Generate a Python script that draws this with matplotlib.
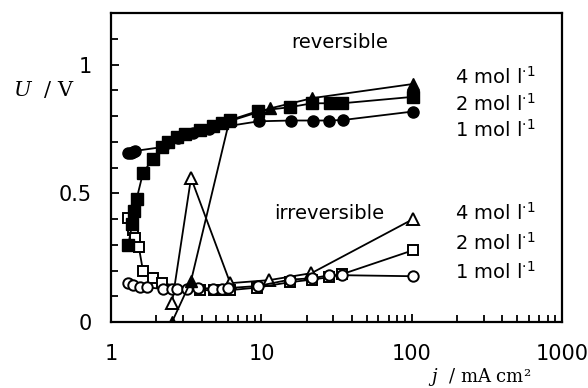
import matplotlib
matplotlib.use("Agg")
import matplotlib.pyplot as plt
from matplotlib.ticker import FixedLocator, NullFormatter, MultipleLocator

# reversible (filled markers)
rev4_j = [2.54, 3.4, 6.1, 11.4, 21.8, 102]
rev4_U = [0.0, 0.16, 0.78, 0.83, 0.87, 0.925]

rev2_j = [1.30, 1.38, 1.42, 1.48, 1.63, 1.90, 2.18, 2.4, 2.75, 3.1, 3.9, 4.76, 5.5, 6.2, 9.5, 15.5, 21.8, 28.5, 34.5, 102]
rev2_U = [0.30, 0.38, 0.43, 0.48, 0.58, 0.635, 0.68, 0.70, 0.72, 0.73, 0.745, 0.76, 0.775, 0.785, 0.82, 0.835, 0.85, 0.85, 0.85, 0.875]

rev1_j = [1.30, 1.35, 1.40, 1.45, 2.2, 2.8, 3.5, 4.5, 9.6, 15.7, 22.0, 28.1, 34.9, 102]
rev1_U = [0.655, 0.658, 0.66, 0.665, 0.68, 0.715, 0.735, 0.75, 0.78, 0.783, 0.783, 0.783, 0.785, 0.818]

# irreversible (open markers)
irr4_j = [2.54, 3.4, 6.2, 11.3, 21.5, 102]
irr4_U = [0.074, 0.56, 0.151, 0.163, 0.19, 0.40]

irr2_j = [1.30, 1.38, 1.40, 1.44, 1.53, 1.63, 1.90, 2.18, 3.9, 4.8, 5.5, 6.2, 9.4, 15.5, 21.8, 28, 34.4, 102]
irr2_U = [0.403, 0.376, 0.357, 0.326, 0.29, 0.198, 0.17, 0.151, 0.124, 0.124, 0.124, 0.124, 0.134, 0.155, 0.165, 0.174, 0.186, 0.279]

irr1_j = [1.30, 1.40, 1.56, 1.74, 2.22, 2.54, 2.75, 3.2, 3.8, 4.77, 5.5, 6.0, 9.5, 15.5, 21.8, 28.2, 34.4, 102]
irr1_U = [0.151, 0.145, 0.136, 0.135, 0.128, 0.128, 0.13, 0.13, 0.132, 0.13, 0.13, 0.132, 0.14, 0.165, 0.17, 0.182, 0.182, 0.178]

conc_labels = ["4 mol l$^{\\cdot 1}$", "2 mol l$^{\\cdot 1}$", "1 mol l$^{\\cdot 1}$"]

fig = plt.figure(figsize=(5.88, 3.88), dpi=100)
ax = fig.add_axes([0.189, 0.170, 0.767, 0.796])

lw = 1.3
ms = 7.5
# open (irreversible) curves
ax.plot(irr4_j, irr4_U, '-^', color='black', lw=lw, ms=ms+1, mfc='white', mec='black', mew=1.4)
ax.plot(irr2_j, irr2_U, '-s', color='black', lw=lw, ms=ms, mfc='white', mec='black', mew=1.4)
ax.plot(irr1_j, irr1_U, '-o', color='black', lw=lw, ms=ms, mfc='white', mec='black', mew=1.4)
# filled (reversible) curves
ax.plot(rev4_j, rev4_U, '-^', color='black', lw=lw, ms=ms+1.5)
ax.plot(rev2_j, rev2_U, '-s', color='black', lw=lw, ms=ms+0.5)
ax.plot(rev1_j, rev1_U, '-o', color='black', lw=lw, ms=ms+0.5)

ax.set_xscale('log')
ax.set_xlim(1, 1000)
ax.set_ylim(0, 1.2)
ax.set_xticks([1, 10, 100, 1000])
ax.set_xticklabels(['1', '10', '100', '1000'])
ax.xaxis.set_minor_locator(FixedLocator([m * d for d in [1, 10, 100] for m in range(2, 10)]))
ax.xaxis.set_minor_formatter(NullFormatter())
ax.set_yticks([0, 0.5, 1])
ax.set_yticklabels(['0', '0.5', '1'])
ax.yaxis.set_minor_locator(MultipleLocator(0.1))

for s in ax.spines.values():
    s.set_linewidth(1.6)
ax.tick_params(which='both', direction='in', width=1.3, labelsize=15)
ax.tick_params(which='major', length=6)
ax.tick_params(which='minor', length=5)
ax.tick_params(axis='x', pad=16)
ax.tick_params(axis='y', pad=14)

# annotation texts
fig.text(340 / 588, 1 - 43 / 388, "reversible", ha='center', va='center', fontsize=14)
fig.text(329 / 588, 1 - 213 / 388, "irreversible", ha='center', va='center', fontsize=14)
for i, lab in enumerate(conc_labels):
    fig.text(455 / 588, 1 - (77 + 26.5 * i) / 388, lab, ha='left', va='center', fontsize=14)
    fig.text(455 / 588, 1 - (213 + 29.5 * i) / 388, lab, ha='left', va='center', fontsize=14)

fig.text(13 / 588, 1 - 90 / 388, "$U$  / V", ha='left', va='center', fontsize=15,
         family='DejaVu Serif', math_fontfamily='dejavuserif')
fig.text(428 / 588, 1 - 382 / 388, "$j$  / mA cm²", ha='left', va='baseline', fontsize=13,
         family='DejaVu Serif', math_fontfamily='dejavuserif')

fig.savefig("out.png", dpi=100)
